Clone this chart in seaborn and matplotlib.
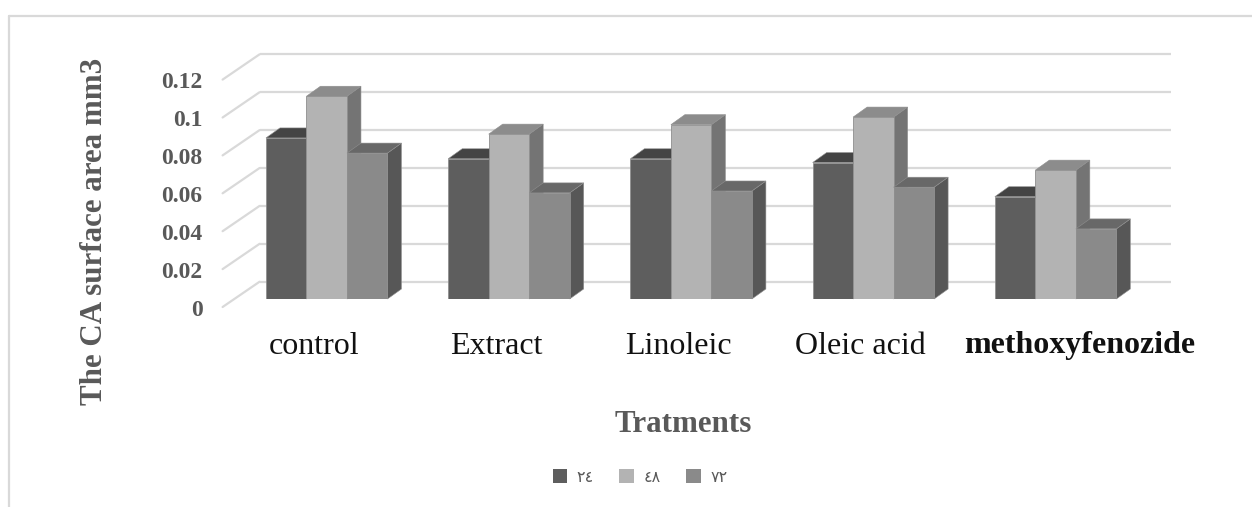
import numpy as np
import pandas as pd
import matplotlib
matplotlib.use("Agg")
import matplotlib.pyplot as plt
from matplotlib.patches import Polygon, Patch
from matplotlib.lines import Line2D
import seaborn as sns

# ---- data -------------------------------------------------------------
treatments = ["control", "Extract", "Linoleic", "Oleic acid", "methoxyfenozide"]
hours = ["٢٤", "٤٨", "٧٢"]
area_24 = [0.085, 0.074, 0.074, 0.072, 0.054]
area_48 = [0.107, 0.087, 0.092, 0.096, 0.068]
area_72 = [0.077, 0.056, 0.057, 0.059, 0.037]
y_ticks = [0, 0.02, 0.04, 0.06, 0.08, 0.1, 0.12]
y_tick_labels = ["0", "0.02", "0.04", "0.06", "0.08", "0.1", "0.12"]

df = pd.DataFrame({
    "treatment": treatments * 3,
    "hour": [hours[0]] * 5 + [hours[1]] * 5 + [hours[2]] * 5,
    "area": area_24 + area_48 + area_72,
})

# ---- style --------------------------------------------------------------
sns.set_style("white")
plt.rcParams["font.family"] = ["Liberation Serif", "DejaVu Sans"]

front_col = ["#5e5e5e", "#b3b3b3", "#8a8a8a"]
top_col = ["#444444", "#8c8c8c", "#686868"]
side_col = ["#4c4c4c", "#747474", "#575757"]
text_grey = "#595959"
grid_col = "#d9d9d9"

W, H = 1252, 507
fig = plt.figure(figsize=(W / 100, H / 100), dpi=100)

# outer chart frame
fig.add_artist(Line2D([9 / W, 1], [1 - 16 / H, 1 - 16 / H], color=grid_col, lw=1.6,
                      transform=fig.transFigure))
fig.add_artist(Line2D([9 / W, 9 / W], [0, 1 - 16 / H], color=grid_col, lw=1.6,
                      transform=fig.transFigure))

# axes = the plane in which the bar fronts stand
left_px, right_px, zero_px, top_px = 235.6, 1146.7, 299.0, 71.6
ax = fig.add_axes([left_px / W, 1 - zero_px / H, (right_px - left_px) / W,
                   (zero_px - top_px) / H])
ax.set_xlim(-0.5, 4.5)
ax.set_ylim(0, 0.12)
ax.axis("off")

# pixel -> data conversions
p0 = ax.transData.transform((0, 0))
p1 = ax.transData.transform((1, 1))
px_x = p1[0] - p0[0]
px_y = p1[1] - p0[1]

def dx(px):
    return px / px_x

def dy(px):
    return px / px_y

# wall offsets (pixels): back wall and front edge relative to bar plane
back = (24.0, 17.3)
front = (-13.0, -8.0)
depth = (14.0, 10.0)

for v in y_ticks:
    # back wall gridline
    ax.plot([-0.5 + dx(back[0]), 4.5 + dx(back[0])], [v + dy(back[1])] * 2,
            color=grid_col, lw=1.6, zorder=0, clip_on=False, solid_capstyle="butt")
    # side-wall gridline going to the front edge
    ax.plot([-0.5 + dx(back[0]), -0.5 + dx(front[0])],
            [v + dy(back[1]), v + dy(front[1])],
            color=grid_col, lw=1.6, zorder=0, clip_on=False)

# bar fronts
sns.barplot(data=df, x="treatment", y="area", hue="hour", hue_order=hours,
            order=treatments, palette=front_col, saturation=1, width=2 / 3,
            edgecolor="#8f8f8f", linewidth=0.6, legend=False, ax=ax)
ax.set_xlim(-0.5, 4.5)
ax.set_ylim(0, 0.12)
ax.axis("off")

# 3-D top and side faces derived from each bar
for i, cont in enumerate(ax.containers):
    for rect in cont:
        rect.set_zorder(3 + 2 * i)
        x0 = rect.get_x()
        w = rect.get_width()
        h = rect.get_height()
        ddx, ddy = dx(depth[0]), dy(depth[1])
        top = Polygon([(x0, h), (x0 + w, h), (x0 + w + ddx, h + ddy), (x0 + ddx, h + ddy)],
                      closed=True, facecolor=top_col[i], edgecolor="#8f8f8f", lw=0.4,
                      zorder=2 + 2 * i, clip_on=False)
        side = Polygon([(x0 + w, 0), (x0 + w + ddx, ddy), (x0 + w + ddx, h + ddy), (x0 + w, h)],
                       closed=True, facecolor=side_col[i], edgecolor="#8f8f8f", lw=0.4,
                       zorder=2 + 2 * i, clip_on=False)
        ax.add_patch(side)
        ax.add_patch(top)

# value tick labels at the front edge
for v, lab in zip(y_ticks, y_tick_labels):
    ax.annotate(lab, xy=(-0.5, v), xytext=(front[0] - 20, front[1] - 3),
                textcoords="offset pixels", ha="right", va="center",
                fontsize=17, fontweight="bold", color=text_grey, annotation_clip=False)

# category labels
nudges = [0, 0, 0, 0, 37]
for k, (name, nx) in enumerate(zip(treatments, nudges)):
    ax.annotate(name, xy=(k, 0), xytext=(front[0] + nx, -47),
                textcoords="offset pixels", ha="center", va="center",
                fontsize=23, color="#111111",
                fontweight="bold" if name == "methoxyfenozide" else "normal",
                annotation_clip=False)

fig.text(95 / W, 1 - 231 / H, "The CA surface area mm3", rotation=90, ha="center",
         va="center", fontsize=22.3, fontweight="bold", color=text_grey)
fig.text(683 / W, 1 - 425 / H, "Tratments", ha="center", va="center",
         fontsize=22.3, fontweight="bold", color=text_grey)

handles = [Patch(facecolor=c, edgecolor="none") for c in front_col]
leg = fig.legend(handles, hours, loc="center", bbox_to_anchor=(640 / W, 1 - 477 / H),
                 ncol=3, frameon=False, handlelength=0.9, handleheight=0.9,
                 handletextpad=0.6, columnspacing=1.6,
                 prop={"family": ["DejaVu Sans"], "size": 11.5})
for t in leg.get_texts():
    t.set_color(text_grey)

fig.savefig("out.png", dpi=100)
